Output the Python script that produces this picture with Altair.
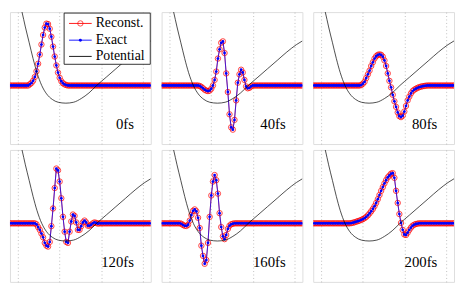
import altair as alt
import pandas as pd

# ---------------- data ----------------
time_labels = ["0fs", "40fs", "80fs", "120fs", "160fs", "200fs"]
legend_labels = ["Reconst.", "Exact", "Potential"]
grid_ticks = [0, 1, 2, 3]

# sample positions of the wave-packet (86 points)
x_grid = [round(-0.2 + 0.04 * i, 2) for i in range(86)]

psi_0 = [0.0] * 12 + [1.3, 2.8, 5.2, 9.2, 15.3, 23.4, 33.3, 44.1, 54.4, 62.4, 66.6,
                      66.1, 61.1, 52.5, 41.9, 31.2, 21.6, 13.9, 8.3, 4.6, 2.4, 1.2,
                      0.5] + [0.0] * 51
psi_40 = [0.0] * 23 + [-0.5, -1.5, -3, -4.5, -5.5, -6, -5.5, -3.5, 0, 6, 15, 29, 39,
                       46, 47.5, 35, 13, -7, -31, -45, -47.5, -37, -16, 3, 12, 17,
                       14, 6, -1, -3, -2.5, -1, 0] + [0.0] * 30
psi_80 = [0.0] * 28 + [0, 0.5, 2, 4, 8, 12, 16, 21, 25, 29, 31.5, 33, 33.5, 33, 31,
                       27, 21, 13, 5, -2, -10, -17, -23, -29, -33, -34, -32.5, -28,
                       -22, -16, -12, -8.5, -6, -4.5, -3.5, -2.5, -1.8, -1.2, -0.8,
                       -0.5, -0.2, 0] + [0.0] * 16
psi_120 = [0.0] * 16 + [-1, -4, -7, -11, -15, -21, -24, -25, -20, -3, 16, 38, 59, 57,
                        45, 27, 7, -9, -20, -21, -9, 2, 9.5, 8, 1, -7, -7, -3, 1, 3,
                        1, -2.5, -2.5, -1.5, 0, 1, 0.5, -0.3] + [0.0] * 32
psi_160 = [0.0] * 12 + [-0.5, -1.8, -2.7, -2.8, -1.5, 3, 9, 13.5, 15, 13, 6, -5, -24,
                        -35, -43.5, -39.5, -21, 7, 30, 45, 52, 46.5, 32, 11, -4, -14,
                        -17, -12.5, -6, -2.5, -1, -0.4] + [0.0] * 42
psi_200 = [0.0] * 22 + [0, 0.3, 0.7, 1.2, 1.8, 2.4, 3, 3.7, 4.6, 5.6, 7, 8.6, 10.7,
                        13, 15.5, 18.5, 22, 26, 30.5, 35, 39, 43, 46.5, 49.5, 51.5,
                        53.5, 54, 49, 35, 22, 10, 0.5, -7, -12, -12.5, -10, -7, -4.5,
                        -2.5, -1.4, -0.7, -0.3, 0] + [0.0] * 21
psi_all = [psi_0, psi_40, psi_80, psi_120, psi_160, psi_200]

pot_x = [0.0, 0.033, 0.091, 0.172, 0.265, 0.358, 0.451, 0.567, 0.684, 0.823, 0.963,
         1.149, 1.335, 1.521, 1.707, 1.893, 2.126, 2.358, 2.591, 2.823, 3.056, 3.2]
pot_y = [97, 89, 79, 63, 46, 29, 14, 0, -9, -15, -18, -19, -18, -14, -8, 0, 9, 18,
         27, 36, 44, 48]

# ---------------- layout / style ----------------
W, H = 143, 134
RED = "#ff0000"
BLUE = "#0000ff"
SERIF = "Liberation Serif, Times New Roman, serif"


def enc_x():
    return alt.X("x:Q", scale=alt.Scale(domain=[-0.2, 3.2], nice=False, zero=False),
                 axis=alt.Axis(values=grid_ticks, grid=True, labels=False, ticks=False,
                               domain=False, title=None, gridColor="#b0b0b0",
                               gridDash=[1, 2.5], gridWidth=0.8, minExtent=0,
                               maxExtent=0))


def enc_y():
    return alt.Y("y:Q", scale=alt.Scale(domain=[-63, 79], nice=False, zero=False),
                 axis=None)


def legend_layers():
    one = pd.DataFrame({"k": [0]})
    layers = [
        alt.Chart(one).mark_rect(fill="white", stroke="black", strokeWidth=0.8).encode(
            x=alt.value(55), x2=alt.value(142.5), y=alt.value(1), y2=alt.value(53))
    ]
    rows_y = [11.5, 28.5, 45]
    cols = [RED, BLUE, "black"]
    for lab, yy, c in zip(legend_labels, rows_y, cols):
        layers.append(alt.Chart(one).mark_rule(color=c, strokeWidth=0.9).encode(
            x=alt.value(60), x2=alt.value(83), y=alt.value(yy)))
        layers.append(alt.Chart(pd.DataFrame({"t": [lab]})).mark_text(
            align="left", baseline="middle", font=SERIF, fontSize=14, color="black"
        ).encode(x=alt.value(87), y=alt.value(yy), text="t:N"))
    layers.append(alt.Chart(one).mark_point(shape="circle", filled=False, color=RED,
                                            size=30, strokeWidth=1.0).encode(
        x=alt.value(71.5), y=alt.value(rows_y[0])))
    layers.append(alt.Chart(one).mark_circle(color=BLUE, size=9, opacity=1).encode(
        x=alt.value(71.5), y=alt.value(rows_y[1])))
    return layers


def build_panel(k):
    df = pd.DataFrame({"x": x_grid, "y": psi_all[k]})
    pdf = pd.DataFrame({"x": pot_x, "y": pot_y})
    base = alt.Chart(df).encode(x=enc_x(), y=enc_y())
    layers = [
        base.mark_line(color=RED, strokeWidth=0.8, opacity=0.9, clip=True),
        base.mark_point(shape="circle", filled=False, color=RED, size=30,
                        strokeWidth=1.0, opacity=0.75, clip=True),
        base.mark_line(color=BLUE, strokeWidth=1.0, opacity=0.75, clip=True),
        base.mark_circle(color=BLUE, size=8, opacity=1, clip=True),
        alt.Chart(pdf).mark_line(color="black", strokeWidth=0.7, interpolate="monotone",
                                 clip=True).encode(x=enc_x(), y=enc_y()),
        alt.Chart(pd.DataFrame({"t": [time_labels[k]]})).mark_text(
            align="right", baseline="alphabetic", font=SERIF, fontSize=15,
            color="black").encode(x=alt.value(126), y=alt.value(119), text="t:N"),
    ]
    if k == 0:
        layers += legend_layers()
    return alt.layer(*layers).properties(width=W, height=H)


row1 = alt.hconcat(*[build_panel(k) for k in range(3)], spacing=9)
row2 = alt.hconcat(*[build_panel(k) for k in range(3, 6)], spacing=9)
chart = alt.vconcat(row1, row2, spacing=4).properties(
    padding={"left": 1, "right": 1, "top": 1, "bottom": 1}
).configure_view(stroke="#555555", strokeWidth=1.2).configure(background="white")

chart.save("out.html", embed_options={"renderer": "svg", "actions": False})
